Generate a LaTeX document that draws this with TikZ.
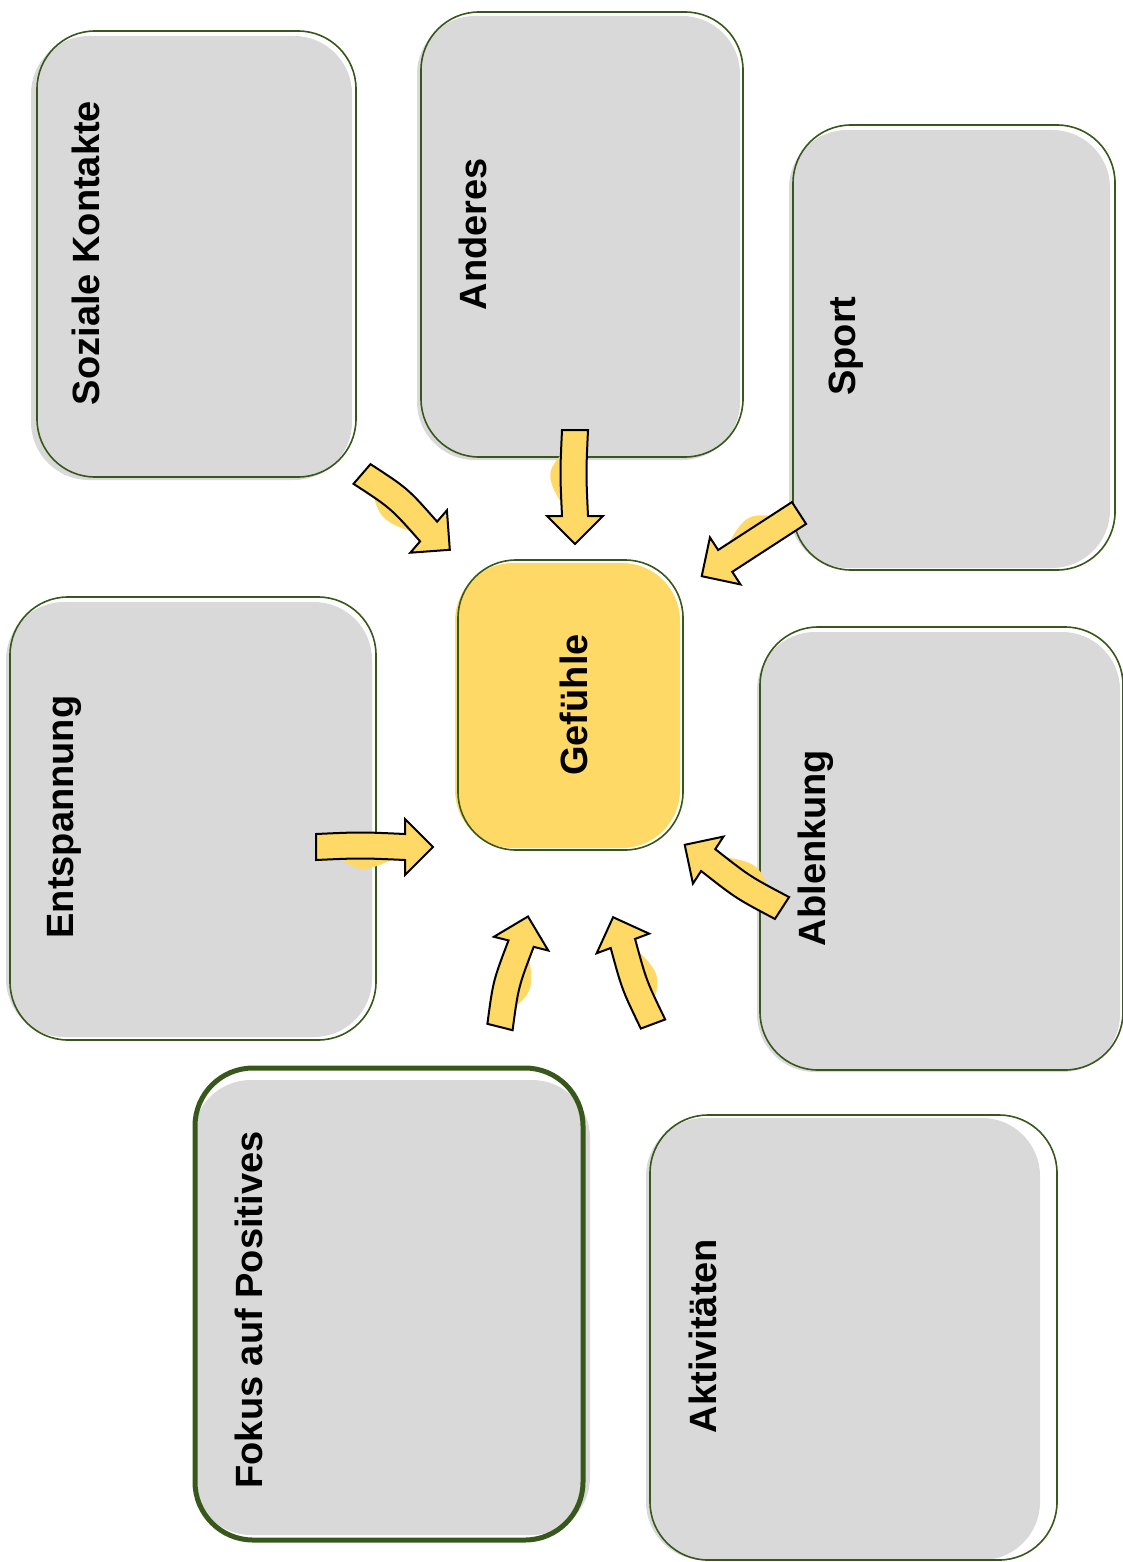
\documentclass[tikz,border=0pt]{standalone}
\usepackage{fontspec}
\setmainfont{Liberation Sans}
\definecolor{boxgray}{HTML}{D9D9D9}
\definecolor{boxgreen}{HTML}{38571A}
\definecolor{arrowyellow}{HTML}{FFD966}
\tikzset{
    boxfill/.style={fill=#1, draw=none, rounded corners=58, inner sep=0},
    boxline/.style={draw=boxgreen, line width=1.6, rounded corners=58, inner sep=0},
    boxtext/.style={rotate=90, anchor=base, inner sep=0,
        font=\fontsize{38}{44}\selectfont\bfseries},
    pics/blockarrow/.style n args={2}{
    code={
        \def\len{#1}
        \def\bend{#2}

        \pgfmathsetmacro{\neck}{\len-28}
        \pgfmathsetmacro{\midd}{\neck/2}
        \pgfmathsetmacro{\up}{13+\bend}
        \pgfmathsetmacro{\down}{-13+\bend}
        \pgfmathsetmacro{\blob}{30+\bend}

        % sketchy fill beside the shaft
        \fill[arrowyellow] (10,0) .. controls (\midd,\blob) .. (\neck,6) -- cycle;
        \path[pic actions] (0,13) .. controls (\midd,\up) .. (\neck,13)
            -- (\neck,28) -- (\len,0) -- (\neck,-28) -- (\neck,-13)
            .. controls (\midd,\down) .. (0,-13) -- cycle;
    }
    }
}
\begin{document}
\begin{tikzpicture}[x=1pt,y=-1pt]
    \useasboundingbox (0,0) rectangle (1123,1562);
    % - coordinates are the pixels of the page, y going down
    % - fill and outline are shifted a bit for the hand drawn look
    % the gray boxes
    \node[boxfill=boxgray, minimum width=321, minimum height=444] at (191.5,258) {};
    \node[boxline, minimum width=319, minimum height=446] (soziale) at (196.5,254) {};
    \node[boxtext] (sozialeText) at (99,253) {Soziale Kontakte};

    \node[boxfill=boxgray, minimum width=323, minimum height=444] at (578.5,238) {};
    \node[boxline, minimum width=322, minimum height=445] (anderes) at (582,234.5) {};
    \node[boxtext] (anderesText) at (486,234) {Anderes};

    \node[boxfill=boxgray, minimum width=321, minimum height=438] at (949.5,349) {};
    \node[boxline, minimum width=322, minimum height=445] (sport) at (954,347.5) {};
    \node[boxtext] (sportText) at (855,346) {Sport};

    \node[boxfill=boxgray, minimum width=366, minimum height=435] at (189,819.5) {};
    \node[boxline, minimum width=366, minimum height=443] (entspannung) at (193,818.5) {};
    \node[boxtext] (entspannungText) at (73,817) {Entspannung};

    \node[boxfill=boxgray, minimum width=363, minimum height=440] at (938.5,852) {};
    \node[boxline, minimum width=363, minimum height=443] (ablenkung) at (941.5,848.5) {};
    \node[boxtext] (ablenkungText) at (825,848) {Ablenkung};

    \node[boxfill=boxgray, minimum width=397, minimum height=455] at (391.5,1307.5) {};
    \node[boxline, line width=5, minimum width=388, minimum height=472] (fokus) at (389,1304) {};
    \node[boxtext] (fokusText) at (262,1310) {Fokus auf Positives};

    \node[boxfill=boxgray, minimum width=394, minimum height=442] at (843,1339) {};
    \node[boxline, minimum width=407, minimum height=445] (aktivitaeten) at (853.5,1337.5) {};
    \node[boxtext] (aktivitaetenText) at (716,1336) {Aktivitäten};

    % the box in the middle
    \node[boxfill=arrowyellow, minimum width=225, minimum height=285] at (567.5,705.5) {};
    \node[boxline, minimum width=225, minimum height=290] (gefuehle) at (570.5,705) {};
    \node[boxtext] (gefuehleText) at (587,705) {Gefühle};

    % draw the arrows, from tail to tip
    \pic[draw, fill=arrowyellow, line width=2, rotate=-40.8] at (362,474) {blockarrow={116}{-6}};
    \pic[draw, fill=arrowyellow, line width=2, rotate=-90] at (575,430) {blockarrow={114}{2}};
    \pic[draw, fill=arrowyellow, line width=2, rotate=-147] at (799,513) {blockarrow={116}{0}};
    \pic[draw, fill=arrowyellow, line width=2, rotate=0] at (316,847) {blockarrow={117}{-2}};
    \pic[draw, fill=arrowyellow, line width=2, rotate=147] at (782,908) {blockarrow={116}{-4}};
    \pic[draw, fill=arrowyellow, line width=2, rotate=75.8] at (500,1027) {blockarrow={114}{-5}};
    \pic[draw, fill=arrowyellow, line width=2, rotate=110.5] at (653,1024) {blockarrow={114}{-4}};
\end{tikzpicture}
\end{document}
